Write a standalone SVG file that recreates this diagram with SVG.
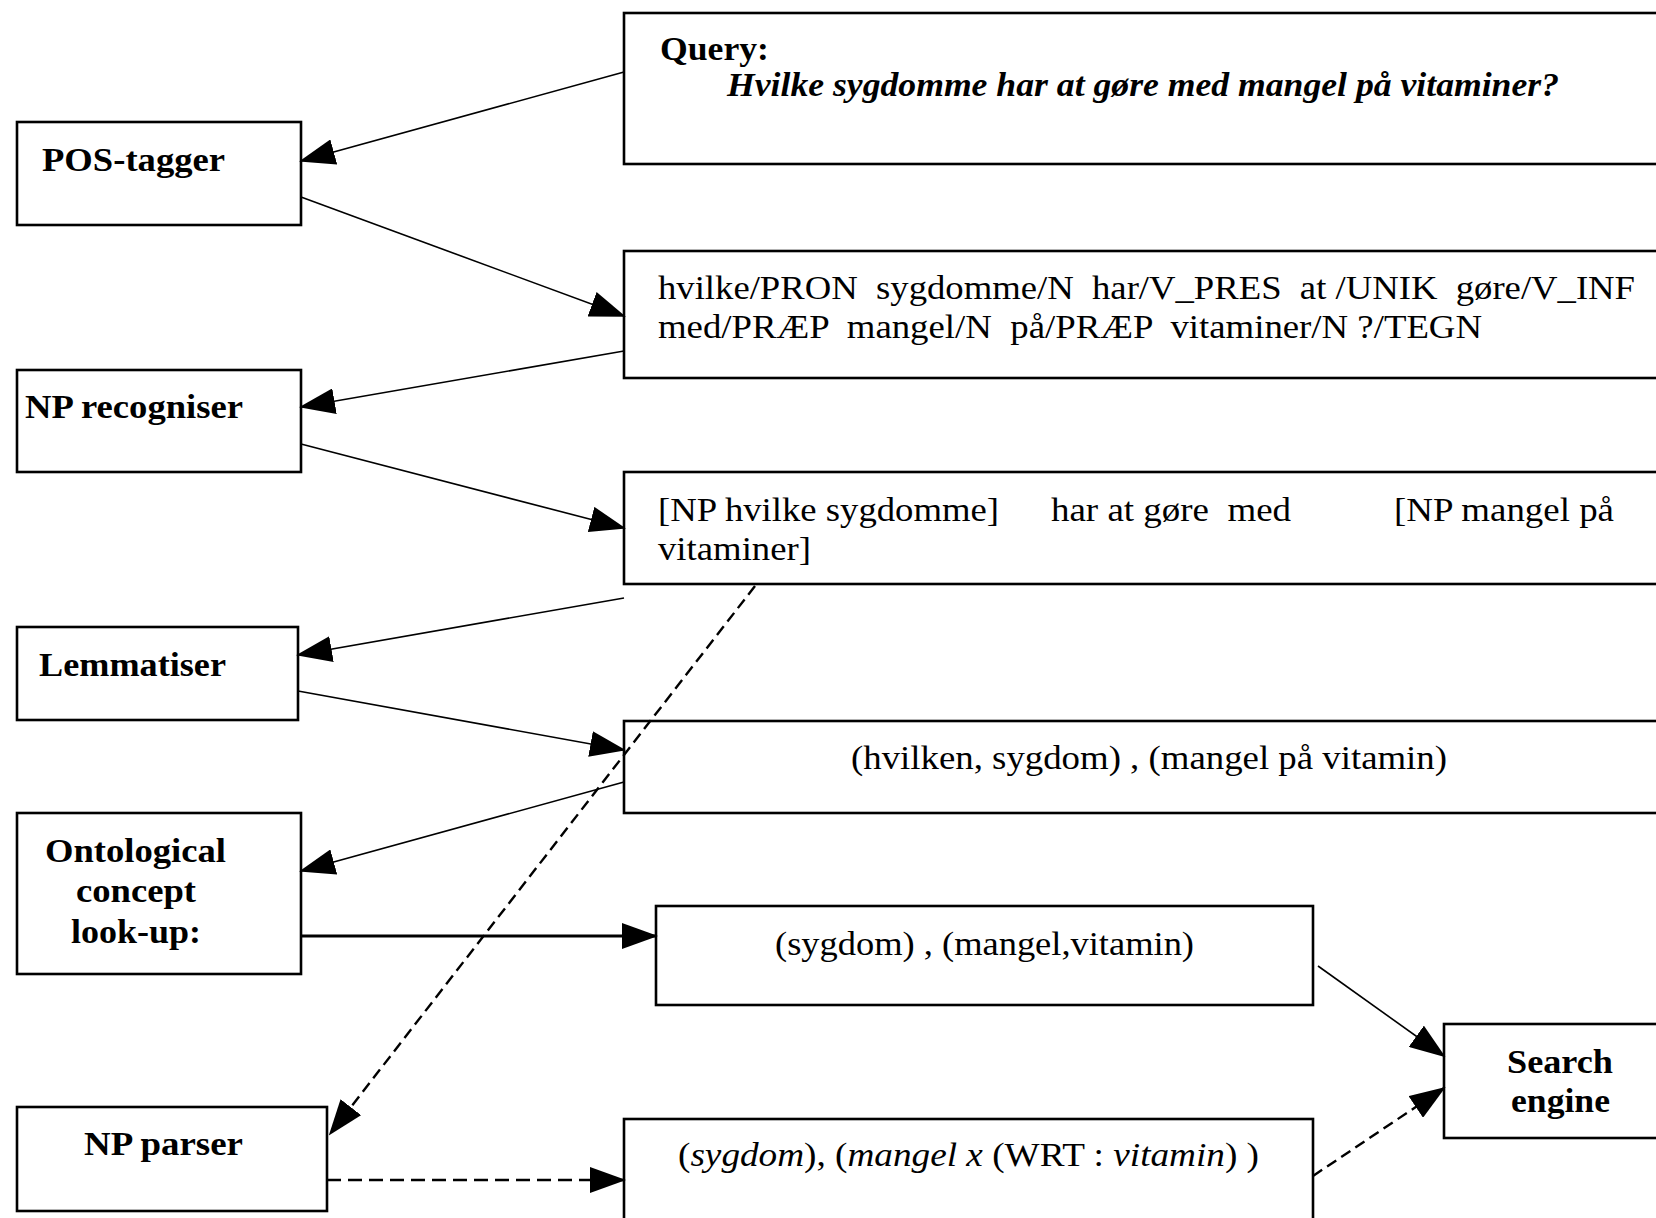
<svg xmlns="http://www.w3.org/2000/svg" width="1656" height="1218" viewBox="0 0 1656 1218">
<style>
.box{fill:#fff;stroke:#000;stroke-width:2.6}
.t{font-family:"Liberation Serif","Times New Roman",serif;font-size:34px;fill:#000;white-space:pre}
.b{font-weight:bold}
.i{font-style:italic}
.c{stroke:#000;stroke-width:1.6;fill:none}
.solid{stroke-width:2.8}
.dash{stroke-dasharray:11 6;stroke-width:2.4}
.dash2{stroke-dasharray:14 7;stroke-width:2.4}
</style>
<defs>
<marker id="ah" markerUnits="userSpaceOnUse" markerWidth="36" markerHeight="26" refX="34" refY="13" orient="auto">
<path d="M0,0 L36,13 L0,26 z" fill="#000"/>
</marker>
</defs>
<rect width="1656" height="1218" fill="#fff"/>

<g id="query">
<rect class="box" x="624" y="13" width="1040" height="151"/>
<text class="t b" x="660" y="60" textLength="109" lengthAdjust="spacingAndGlyphs">Query:</text>
<text class="t b i" x="727" y="96" textLength="832" lengthAdjust="spacingAndGlyphs">Hvilke sygdomme har at gøre med mangel på vitaminer?</text>
</g>

<g id="pos-tagger">
<rect class="box" x="17" y="122" width="284" height="103"/>
<text class="t b" x="42" y="171" textLength="183" lengthAdjust="spacingAndGlyphs">POS-tagger</text>
</g>

<g id="tagged">
<rect class="box" x="624" y="251" width="1040" height="127"/>
<text class="t" x="658" y="299" textLength="977" lengthAdjust="spacingAndGlyphs">hvilke/PRON  sygdomme/N  har/V_PRES  at /UNIK  gøre/V_INF</text>
<text class="t" x="658" y="338" textLength="824" lengthAdjust="spacingAndGlyphs">med/PRÆP  mangel/N  på/PRÆP  vitaminer/N ?/TEGN</text>
</g>

<g id="np-recogniser">
<rect class="box" x="17" y="370" width="284" height="102"/>
<text class="t b" x="25" y="418" textLength="218" lengthAdjust="spacingAndGlyphs">NP recogniser</text>
</g>

<g id="np-chunks">
<rect class="box" x="624" y="472" width="1040" height="112"/>
<text class="t" x="658" y="521" textLength="341" lengthAdjust="spacingAndGlyphs">[NP hvilke sygdomme]</text>
<text class="t" x="1051" y="521" textLength="240" lengthAdjust="spacingAndGlyphs">har at gøre  med</text>
<text class="t" x="1394" y="521" textLength="220" lengthAdjust="spacingAndGlyphs">[NP mangel på</text>
<text class="t" x="658" y="560" textLength="153" lengthAdjust="spacingAndGlyphs">vitaminer]</text>
</g>

<g id="lemmatiser">
<rect class="box" x="17" y="627" width="281" height="93"/>
<text class="t b" x="39" y="676" textLength="187" lengthAdjust="spacingAndGlyphs">Lemmatiser</text>
</g>

<g id="lemmas">
<rect class="box" x="624" y="721" width="1040" height="92"/>
<text class="t" x="851" y="769" textLength="596" lengthAdjust="spacingAndGlyphs">(hvilken, sygdom) , (mangel på vitamin)</text>
</g>

<g id="ontological">
<rect class="box" x="17" y="813" width="284" height="161"/>
<text class="t b" x="45" y="862" textLength="181" lengthAdjust="spacingAndGlyphs">Ontological</text>
<text class="t b" x="76" y="902" textLength="120" lengthAdjust="spacingAndGlyphs">concept</text>
<text class="t b" x="71" y="943" textLength="130" lengthAdjust="spacingAndGlyphs">look-up:</text>
</g>

<g id="concepts">
<rect class="box" x="656" y="906" width="657" height="99"/>
<text class="t" x="775" y="955" textLength="419" lengthAdjust="spacingAndGlyphs">(sygdom) , (mangel,vitamin)</text>
</g>

<g id="search-engine">
<rect class="box" x="1444" y="1024" width="220" height="114"/>
<text class="t b" x="1507" y="1073" textLength="106" lengthAdjust="spacingAndGlyphs">Search</text>
<text class="t b" x="1511" y="1112" textLength="99" lengthAdjust="spacingAndGlyphs">engine</text>
</g>

<g id="np-parser">
<rect class="box" x="17" y="1107" width="310" height="104"/>
<text class="t b" x="84" y="1155" textLength="159" lengthAdjust="spacingAndGlyphs">NP parser</text>
</g>

<g id="parsed">
<rect class="box" x="624" y="1119" width="689" height="110"/>
<text class="t" x="678" y="1166" textLength="581" lengthAdjust="spacingAndGlyphs">(<tspan class="i">sygdom</tspan>), (<tspan class="i">mangel x</tspan> (WRT : <tspan class="i">vitamin</tspan>) )</text>
</g>

<g id="connectors">
<line class="c" x1="624" y1="72" x2="301" y2="161" marker-end="url(#ah)"/>
<line class="c" x1="301" y1="197" x2="624" y2="316" marker-end="url(#ah)"/>
<line class="c" x1="624" y1="351" x2="301" y2="407" marker-end="url(#ah)"/>
<line class="c" x1="301" y1="444" x2="624" y2="528" marker-end="url(#ah)"/>
<line class="c" x1="624" y1="598" x2="298" y2="655" marker-end="url(#ah)"/>
<line class="c" x1="298" y1="691" x2="624" y2="750" marker-end="url(#ah)"/>
<line class="c" x1="624" y1="782" x2="301" y2="871" marker-end="url(#ah)"/>
<line class="c solid" x1="301" y1="936" x2="656" y2="936" marker-end="url(#ah)"/>
<line class="c dash" x1="755" y1="586" x2="330" y2="1134" marker-end="url(#ah)"/>
<line class="c dash2" x1="327" y1="1180" x2="624" y2="1180" marker-end="url(#ah)"/>
<line class="c" x1="1318" y1="966" x2="1444" y2="1056" marker-end="url(#ah)"/>
<line class="c dash" x1="1313" y1="1176" x2="1444" y2="1088" marker-end="url(#ah)"/>
</g>
</svg>
